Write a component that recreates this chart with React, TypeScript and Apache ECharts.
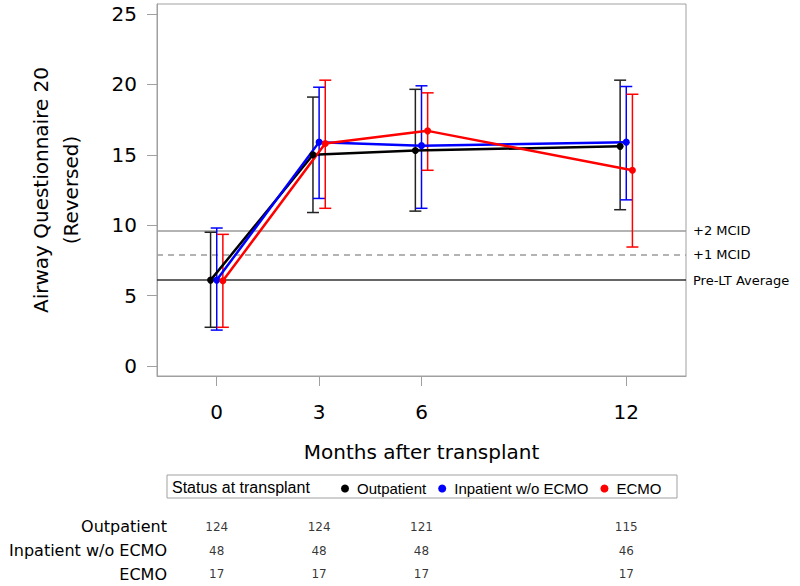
import React, { useEffect, useRef } from "react";
import * as echarts from "echarts";

// ---- data ----
const months = [0, 3, 6, 12];
const groups = ["Outpatient", "Inpatient w/o ECMO", "ECMO"];

const outpatientMean = [6.1, 15.0, 15.3, 15.6];
const outpatientLow = [2.75, 10.9, 11.0, 11.1];
const outpatientHigh = [9.5, 19.1, 19.65, 20.3];

const inpatientMean = [6.1, 15.9, 15.65, 15.9];
const inpatientLow = [2.55, 11.9, 11.2, 11.8];
const inpatientHigh = [9.8, 19.8, 19.9, 19.85];

const ecmoMean = [6.05, 15.8, 16.7, 13.9];
const ecmoLow = [2.75, 11.2, 13.9, 8.45];
const ecmoHigh = [9.35, 20.3, 19.4, 19.3];

const outpatientN = [124, 124, 121, 115];
const inpatientN = [48, 48, 48, 46];
const ecmoN = [17, 17, 17, 17];

const refLabels = ["+2 MCID", "+1 MCID", "Pre-LT Average"];
const refValues = [9.6, 7.9, 6.1];

const yTicks = [0, 5, 10, 15, 20, 25];

// ---- styling ----
const colors = ["#000000", "#0000ff", "#ff0000"];
const barColors = ["#222222", "#0000ff", "#ff0000"];
const dodge = [-0.18, 0, 0.18];
const FONT = "DejaVu Sans";

export default function App() {
  const ref = useRef<HTMLDivElement>(null);

  useEffect(() => {
    if (!ref.current) return;
    const chart = echarts.init(ref.current, null, { renderer: "svg" });

    const means = [outpatientMean, inpatientMean, ecmoMean];
    const lows = [outpatientLow, inpatientLow, ecmoLow];
    const highs = [outpatientHigh, inpatientHigh, ecmoHigh];
    const counts = [outpatientN, inpatientN, ecmoN];

    const series: any[] = [];

    groups.forEach((g, gi) => {
      const col = barColors[gi];
      series.push({
        type: "custom",
        name: g + " CI",
        xAxisIndex: 0,
        yAxisIndex: 0,
        encode: { x: 0, y: [1, 2] },
        z: 2,
        data: months.map((m, i) => [m + dodge[gi], lows[gi][i], highs[gi][i]]),
        renderItem: (params: any, api: any) => {
          const x = api.value(0);
          const lo = api.coord([x, api.value(1)]);
          const hi = api.coord([x, api.value(2)]);
          const cw = 6;
          const st = { stroke: col, lineWidth: 1.5 };
          return {
            type: "group",
            children: [
              { type: "line", shape: { x1: lo[0], y1: lo[1], x2: hi[0], y2: hi[1] }, style: st },
              { type: "line", shape: { x1: lo[0] - cw, y1: lo[1], x2: lo[0] + cw, y2: lo[1] }, style: st },
              { type: "line", shape: { x1: hi[0] - cw, y1: hi[1], x2: hi[0] + cw, y2: hi[1] }, style: st },
            ],
          };
        },
      });
    });

    groups.forEach((g, gi) => {
      const s: any = {
        type: "line",
        name: g,
        xAxisIndex: 0,
        yAxisIndex: 0,
        z: 3,
        symbol: "circle",
        symbolSize: 7,
        color: colors[gi],
        lineStyle: { color: colors[gi], width: 2.5 },
        itemStyle: { color: colors[gi] },
        data: months.map((m, i) => [m + dodge[gi], means[gi][i]]),
      };
      if (gi === 0) {
        s.markLine = {
          silent: true,
          symbol: ["none", "none"],
          z: 1,
          data: refLabels.map((lab, i) => ({
            name: lab,
            yAxis: refValues[i],
            lineStyle: {
              color: i === 2 ? "#333333" : "#9a9a9a",
              width: 1.5,
              type: i === 1 ? [6, 5] : "solid",
            },
            label: {
              show: true,
              position: "end",
              formatter: "{b}",
              distance: 7,
              color: "#000",
              fontFamily: FONT,
              fontSize: 13,
            },
          })),
        };
      }
      series.push(s);
    });

    // table of counts
    groups.forEach((g, gi) => {
      series.push({
        type: "scatter",
        name: g + " N",
        xAxisIndex: 1,
        yAxisIndex: 1,
        symbolSize: 0,
        silent: true,
        data: months.map((m, i) => [m, g, counts[gi][i]]),
        label: {
          show: true,
          position: "inside",
          formatter: (p: any) => String(p.value[2]),
          color: "#000",
          fontFamily: FONT,
          fontSize: 12,
        },
      });
    });

    const option: any = {
      animation: false,
      backgroundColor: "#ffffff",
      grid: [
        { left: 157, right: 114, top: 4, bottom: 210, show: true, borderColor: "#a0a0a0", borderWidth: 1 },
        { left: 157, right: 114, top: 515, height: 73 },
      ],
      xAxis: [
        {
          type: "value",
          gridIndex: 0,
          min: -1.75,
          max: 13.75,
          splitLine: { show: false },
          axisLine: { show: true, onZero: false, lineStyle: { color: "#a0a0a0" } },
          axisTick: { show: true, length: 10, lineStyle: { color: "#a0a0a0" }, customValues: months },
          axisLabel: {
            customValues: months,
            margin: 26,
            color: "#000",
            fontFamily: FONT,
            fontSize: 20,
          },
          name: "Months after transplant",
          nameLocation: "middle",
          nameGap: 66,
          nameTextStyle: { color: "#000", fontFamily: FONT, fontSize: 20 },
        },
        {
          type: "value",
          gridIndex: 1,
          min: -1.75,
          max: 13.75,
          show: false,
        },
      ],
      yAxis: [
        {
          type: "value",
          gridIndex: 0,
          min: -0.71,
          max: 25.71,
          splitLine: { show: false },
          axisLine: { show: true, onZero: false, lineStyle: { color: "#a0a0a0" } },
          axisTick: { show: true, length: 10, lineStyle: { color: "#a0a0a0" }, customValues: yTicks },
          axisLabel: {
            customValues: yTicks,
            margin: 20,
            color: "#000",
            fontFamily: FONT,
            fontSize: 20,
          },
        },
        {
          type: "category",
          gridIndex: 1,
          data: groups,
          inverse: true,
          axisLine: { show: false, onZero: false },
          axisTick: { show: false },
          splitLine: { show: false },
          axisLabel: {
            show: true,
            margin: -10,
            color: "#000",
            fontFamily: FONT,
            fontSize: 16,
          },
        },
      ],
      legend: {
        data: groups,
        left: 341,
        top: 481,
        icon: "circle",
        itemWidth: 14,
        itemHeight: 8,
        itemGap: 12,
        padding: 0,
        selectedMode: false,
        textStyle: { color: "#000", fontFamily: "Liberation Sans", fontSize: 15 },
      },
      graphic: [
        {
          type: "rect",
          z: -1,
          shape: { x: 167, y: 475, width: 510, height: 23 },
          style: { fill: "#ffffff", stroke: "#a0a0a0", lineWidth: 1 },
        },
        {
          type: "text",
          x: 172,
          y: 487,
          style: {
            text: "Status at transplant",
            fill: "#000",
            font: "16px 'Liberation Sans'",
            textVerticalAlign: "middle",
          },
        },
        {
          type: "text",
          x: 41,
          y: 190,
          rotation: Math.PI / 2,
          style: {
            text: "Airway Questionnaire 20",
            fill: "#000",
            font: "20px 'DejaVu Sans'",
            textAlign: "center",
            textVerticalAlign: "middle",
          },
        },
        {
          type: "text",
          x: 71,
          y: 190,
          rotation: Math.PI / 2,
          style: {
            text: "(Reversed)",
            fill: "#000",
            font: "20px 'DejaVu Sans'",
            textAlign: "center",
            textVerticalAlign: "middle",
          },
        },
      ],
      series,
    };

    chart.setOption(option);
    return () => chart.dispose();
  }, []);

  return (
    <div
      ref={ref}
      style={{ position: "fixed", left: 0, top: 0, width: 800, height: 586, background: "#fff" }}
    />
  );
}
